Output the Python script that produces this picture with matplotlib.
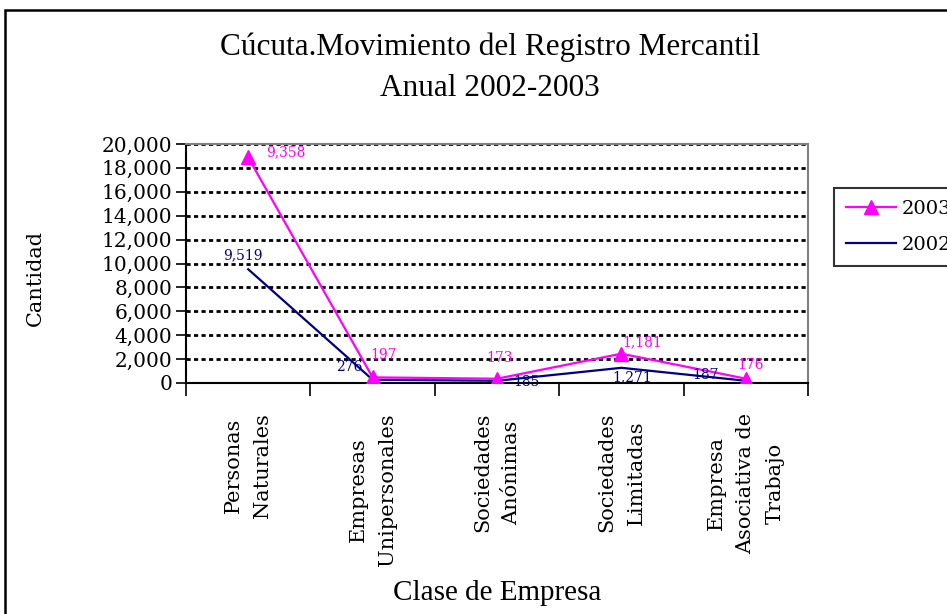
import matplotlib.pyplot as plt
from matplotlib.patches import Rectangle

# Data (stacked line chart: 2003 is drawn on top of 2002)
categories = ['Personas\nNaturales', 'Empresas\nUnipersonales', 'Sociedades\nAnónimas',
              'Sociedades\nLimitadas', 'Empresa\nAsociativa de\nTrabajo']
values_2002 = [9519, 276, 185, 1271, 187]
values_2003 = [9358, 197, 173, 1181, 176]
y_ticks = list(range(0, 20001, 2000))

# label offsets in points (position only)
off_2003 = [(27, 4), (8, 16), (1.5, 15), (15, 8), (3.5, 10)]
off_2002 = [(-3.5, 10), (-17, 9), (21, -1), (8, -7), (-29, 4)]

MAG = '#FF00FF'
NAVY = '#000080'
SERIF = 'DejaVu Serif'
TIMES = 'Liberation Serif'

fig = plt.figure(figsize=(9.47, 6.14), dpi=100)
ax = fig.add_axes([186 / 947, 1 - 383 / 614, 622 / 947, 239 / 614])

x = list(range(len(categories)))
stacked_2003 = [a + b for a, b in zip(values_2002, values_2003)]

ax.plot(x, stacked_2003, color=MAG, lw=1.6, marker='^', markersize=10, label='2003', zorder=4)
ax.plot(x, values_2002, color=NAVY, lw=1.6, label='2002', zorder=3)

for i in x:
    ax.annotate(f'{values_2003[i]:,}', (i, stacked_2003[i]), xytext=off_2003[i],
                textcoords='offset points', ha='center', va='center',
                color=MAG, fontsize=10, family=SERIF, zorder=5)
    ax.annotate(f'{values_2002[i]:,}', (i, values_2002[i]), xytext=off_2002[i],
                textcoords='offset points', ha='center', va='center',
                color=NAVY, fontsize=10, family=SERIF, zorder=5)

ax.set_xlim(-0.5, len(categories) - 0.5)
ax.set_ylim(0, 20000)
ax.set_yticks(y_ticks)
ax.set_yticklabels([f'{v:,}' for v in y_ticks], family=SERIF, fontsize=14.5)
ax.yaxis.grid(True, color='black', lw=2, linestyle=(0, (1.5, 1.2)))
ax.set_axisbelow(True)

ax.set_xticks([i - 0.5 for i in range(len(categories) + 1)])
ax.set_xticklabels([])
ax.tick_params(axis='x', direction='out', length=9, width=1.2)
ax.tick_params(axis='y', direction='out', length=7, width=1.2, pad=3)

for i, lab in enumerate(categories):
    ax.text(i, -0.125, lab, transform=ax.get_xaxis_transform(), rotation=90,
            ha='center', va='top', multialignment='center', linespacing=1.7,
            family=SERIF, fontsize=15)

for s in ('left', 'bottom'):
    ax.spines[s].set_color('black')
    ax.spines[s].set_linewidth(1.5)
for s in ('top', 'right'):
    ax.spines[s].set_color('#808080')
    ax.spines[s].set_linewidth(1.5)

fig.text(35 / 947, 1 - 278 / 614, 'Cantidad', rotation=90, ha='center', va='center',
         family=SERIF, fontsize=15)
fig.text(497 / 947, 1 - 593 / 614, 'Clase de Empresa', ha='center', va='center',
         family=TIMES, fontsize=21)
fig.text(490 / 947, 1 - 47 / 614, 'Cúcuta.Movimiento del Registro Mercantil',
         ha='center', va='center', family=TIMES, fontsize=22.5)
fig.text(490 / 947, 1 - 88 / 614, 'Anual 2002-2003', ha='center', va='center',
         family=TIMES, fontsize=22.5)

leg = ax.legend(loc='upper left', bbox_to_anchor=(834 / 947, 1 - 188 / 614),
                bbox_transform=fig.transFigure, frameon=True, fancybox=False,
                prop={'family': SERIF, 'size': 14}, handlelength=2.6,
                handletextpad=0.3, borderpad=0.6, labelspacing=0.95, borderaxespad=0)
leg.get_frame().set_edgecolor('black')
leg.get_frame().set_linewidth(1.5)

# outer chart border (cut off at the right and bottom)
fig.patches.append(Rectangle((5 / 947, -1), 2, 2 - 10 / 614, transform=fig.transFigure,
                             fill=False, edgecolor='black', lw=1.8))

fig.savefig('out.png', dpi=100)
